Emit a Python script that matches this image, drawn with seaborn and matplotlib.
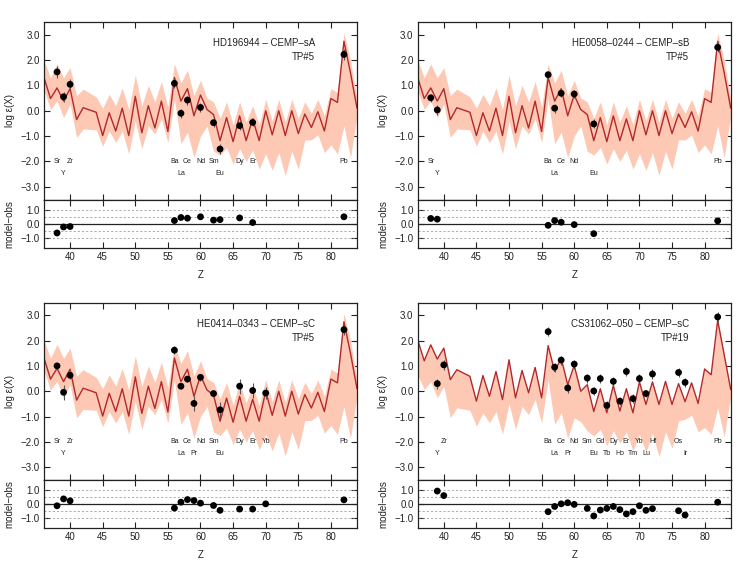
import matplotlib
matplotlib.use("Agg")
import matplotlib.pyplot as plt
import seaborn as sns
import pandas as pd

# model grid (Tc, Z=43, has no point)
z_model = [36, 37, 38, 39, 40, 41, 42, 44, 45, 46, 47, 48, 49, 50, 51, 52, 53, 54, 55,
           56, 57, 58, 59, 60, 61, 62, 63, 64, 65, 66, 67, 68, 69, 70, 71, 72, 73, 74,
           75, 76, 77, 78, 79, 80, 81, 82, 83, 84]

tp5_line = [1.31, 0.48, 0.90, 0.38, 0.87, -0.35, 0.12, -0.06, -0.98, -0.08, -0.80, 0.10,
            -0.98, 0.57, -0.87, 0.20, -0.68, 0.38, -0.82, 1.31, 0.38, 0.87, -0.20, 0.62,
            0.05, -0.15, -1.18, -0.27, -1.22, -0.20, -1.18, -0.32, -1.18, 0.00, -0.95,
            0.00, -0.98, 0.00, -0.90, -0.13, -0.66, -0.04, -0.80, 0.48, 0.33, 2.74, 1.50, 0.10]
tp5_upper = [2.00, 1.30, 1.85, 1.30, 1.70, 0.60, 0.85, 0.55, 0.10, 0.65, 0.20, 0.90,
             0.05, 1.40, 0.20, 1.00, 0.35, 1.15, 0.15, 1.85, 1.10, 1.60, 0.60, 1.20,
             0.50, 0.35, -0.30, 0.35, -0.55, 0.35, -0.45, 0.20, -0.55, 0.45, -0.40,
             0.45, -0.45, 0.45, -0.30, 0.35, -0.10, 0.45, -0.20, 0.87, 0.72, 3.07, 2.00, 0.45]
tp5_lower = [0.80, 0.05, 0.40, -0.27, 0.26, -1.05, -0.72, -0.75, -1.40, -0.80, -1.25, -0.80,
             -1.70, -0.40, -1.50, -0.60, -0.92, -0.32, -1.25, 0.45, -1.30, -0.85, -1.85, -1.00,
             -0.60, -1.60, -1.75, -1.45, -2.10, -1.50, -2.00, -1.55, -2.30, -1.70, -2.35,
             -1.65, -2.55, -1.60, -2.30, -1.15, -1.15, -0.95, -1.65, -1.35, -1.70, -0.60, -1.85, -0.20]

tp19_line = [2.02, 1.20, 1.83, 1.27, 1.70, 0.46, 0.85, 0.59, -0.39, 0.62, -0.20, 0.78,
             -0.33, 1.24, -0.26, 0.82, -0.06, 0.94, -0.26, 1.80, 0.78, 1.30, 0.26, 1.02,
             0.00, 0.26, -0.80, 0.10, -0.85, 0.23, -0.78, 0.10, -0.85, 0.37, -0.52,
             0.37, -0.52, 0.39, -0.52, 0.30, -0.41, 0.33, -0.48, 0.88, 0.65, 2.80, 1.44, 0.07]
tp19_lower = [0.65, 0.07, 0.39, -0.26, 0.20, -1.04, -0.65, -0.75, -1.37, -0.85, -1.24, -0.80,
              -1.69, -0.50, -1.50, -0.60, -0.92, -0.32, -1.25, 0.45, -1.30, -0.85, -1.85, -1.05,
              -1.20, -1.56, -1.76, -1.50, -2.15, -1.55, -2.05, -1.60, -2.35, -1.70, -2.40,
              -1.65, -2.58, -1.60, -2.25, -1.17, -1.10, -0.95, -1.60, -1.43, -1.70, -0.65, -1.80, -0.20]

elements = {38: 'Sr', 39: 'Y', 40: 'Zr', 56: 'Ba', 57: 'La', 58: 'Ce', 59: 'Pr', 60: 'Nd',
            62: 'Sm', 63: 'Eu', 64: 'Gd', 65: 'Tb', 66: 'Dy', 67: 'Ho', 68: 'Er', 69: 'Tm',
            70: 'Yb', 71: 'Lu', 72: 'Hf', 76: 'Os', 77: 'Ir', 82: 'Pb'}

# HD196944
hd_z = [38, 39, 40, 56, 57, 58, 60, 62, 63, 66, 68, 82]
hd_obs = [1.53, 0.55, 1.04, 1.08, -0.10, 0.42, 0.13, -0.47, -1.51, -0.59, -0.46, 2.22]
hd_err = [0.22, 0.20, 0.20, 0.20, 0.18, 0.18, 0.18, 0.18, 0.20, 0.18, 0.16, 0.20]
hd_res = [-0.65, -0.22, -0.19, 0.24, 0.46, 0.41, 0.51, 0.27, 0.31, 0.43, 0.10, 0.51]

# HE0058-0244
he58_z = [38, 39, 56, 57, 58, 60, 63, 82]
he58_obs = [0.51, 0.03, 1.42, 0.10, 0.69, 0.66, -0.52, 2.50]
he58_err = [0.15, 0.20, 0.15, 0.18, 0.15, 0.15, 0.18, 0.20]
he58_res = [0.39, 0.34, -0.10, 0.24, 0.12, -0.05, -0.70, 0.22]

# HE0414-0343
he414_z = [38, 39, 40, 56, 57, 58, 59, 60, 62, 63, 66, 68, 70, 82]
he414_obs = [1.00, -0.04, 0.63, 1.62, 0.20, 0.48, -0.48, 0.55, -0.09, -0.73, 0.20, 0.03, -0.07, 2.43]
he414_err = [0.12, 0.30, 0.15, 0.15, 0.12, 0.12, 0.28, 0.15, 0.10, 0.30, 0.30, 0.30, 0.25, 0.20]
he414_res = [-0.12, 0.38, 0.24, -0.29, 0.14, 0.33, 0.26, 0.07, -0.10, -0.45, -0.36, -0.36, 0.02, 0.31]

# CS31062-050
cs_z = [39, 40, 56, 57, 58, 59, 60, 62, 63, 64, 65, 66, 67, 68, 69, 70, 71, 72, 76, 77, 82]
cs_obs = [0.30, 1.04, 2.35, 0.95, 1.23, 0.13, 1.07, 0.52, 0.01, 0.50, -0.56, 0.39, -0.39,
          0.78, -0.29, 0.50, -0.09, 0.68, 0.74, 0.35, 2.93]
cs_err = [0.20, 0.20, 0.18, 0.18, 0.18, 0.20, 0.18, 0.18, 0.15, 0.18, 0.18, 0.18, 0.15,
          0.18, 0.18, 0.18, 0.15, 0.20, 0.18, 0.18, 0.18]
cs_res = [0.95, 0.62, -0.55, -0.17, 0.02, 0.10, -0.02, -0.31, -0.86, -0.43, -0.31, -0.17,
          -0.40, -0.71, -0.55, -0.12, -0.45, -0.33, -0.48, -0.79, 0.14]

FILL = '#fdc9b4'
LINE = '#b3282b'
TXT = '#222222'

sns.set_style("ticks")
plt.rcParams['font.family'] = ['Liberation Sans', 'DejaVu Sans']
plt.rcParams['axes.linewidth'] = 0.9
plt.rcParams['axes.edgecolor'] = '#222222'


def style(ax):
    ax.tick_params(direction='in', top=True, right=True, length=4, width=0.8,
                   labelsize=7, colors=TXT, pad=3)
    ax.set_xlim(36, 84)
    ax.set_xticks(range(40, 85, 5))


def panel(fig, x0, ytop, ybot, z, obs, err, res, line, upper, lower, title, tp):
    w = 0.419
    ax = fig.add_axes([x0, ytop, w, 0.3142])
    axr = fig.add_axes([x0, ybot, w, ytop - ybot])

    model = pd.DataFrame({'Z': z_model, 'line': line, 'up': upper, 'lo': lower})
    stars = pd.DataFrame({'Z': z, 'obs': obs, 'err': err, 'res': res})

    ax.fill_between(model['Z'], model['lo'], model['up'], color=FILL, lw=0, zorder=1)
    sns.lineplot(data=model, x='Z', y='line', ax=ax, color=LINE, lw=1.0, zorder=2)
    ax.errorbar(stars['Z'], stars['obs'], yerr=stars['err'], fmt='none',
                ecolor='#555555', elinewidth=0.8, capsize=0, zorder=3)
    sns.scatterplot(data=stars, x='Z', y='obs', ax=ax, color='black', s=24,
                    edgecolor='none', zorder=4)
    for zz in z:
        ax.text(zz, -2.0 if zz % 2 == 0 else -2.47, elements[zz], fontsize=5,
                ha='center', va='center', color=TXT)
    ax.text(77.6, 2.67, title, fontsize=7, ha='right', va='center', color=TXT)
    ax.text(77.6, 2.1, tp, fontsize=7, ha='right', va='center', color=TXT)
    style(ax)
    ax.set_ylim(-3.5, 3.5)
    ax.set_yticks([-3, -2, -1, 0, 1, 2, 3])
    ax.set_yticklabels(['\u22123.0', '\u22122.0', '\u22121.0', '0.0', '1.0', '2.0', '3.0'])
    ax.tick_params(labelbottom=False)
    ax.set_xlabel('')
    ax.set_ylabel('log \u03b5(X)', fontsize=7, color=TXT)
    ax.yaxis.set_label_coords(-0.094, 0.5)

    axr.axhline(0, color='#222222', lw=0.9, zorder=1)
    for v in (-1.0, -0.5, 0.5, 1.0):
        axr.axhline(v, color='#888888', lw=0.5, ls=(0, (3, 3)), zorder=1)
    sns.scatterplot(data=stars, x='Z', y='res', ax=axr, color='black', s=24,
                    edgecolor='none', zorder=4)
    style(axr)
    axr.set_ylim(-1.75, 1.75)
    axr.set_yticks([-1, 0, 1])
    axr.set_yticklabels(['\u22121.0', '0.0', '1.0'])
    axr.set_xlabel('Z', fontsize=7, color=TXT)
    axr.set_ylabel('model\u2212obs', fontsize=7, color=TXT)
    axr.yaxis.set_label_coords(-0.094, 0.5)
    axr.xaxis.set_label_coords(0.5, -0.45)


fig = plt.figure(figsize=(7.47, 5.65), dpi=100)
panel(fig, 0.0589, 0.6469, 0.5605, hd_z, hd_obs, hd_err, hd_res,
      tp5_line, tp5_upper, tp5_lower, 'HD196944 \u2013 CEMP\u2013sA', 'TP#5')
panel(fig, 0.5592, 0.6469, 0.5605, he58_z, he58_obs, he58_err, he58_res,
      tp5_line, tp5_upper, tp5_lower, 'HE0058\u20130244 \u2013 CEMP\u2013sB', 'TP#5')
panel(fig, 0.0589, 0.1504, 0.0651, he414_z, he414_obs, he414_err, he414_res,
      tp5_line, tp5_upper, tp5_lower, 'HE0414\u20130343 \u2013 CEMP\u2013sC', 'TP#5')
panel(fig, 0.5592, 0.1504, 0.0651, cs_z, cs_obs, cs_err, cs_res,
      tp19_line, tp19_line, tp19_lower, 'CS31062\u2013050 \u2013 CEMP\u2013sC', 'TP#19')

fig.savefig('out.png', dpi=100)
